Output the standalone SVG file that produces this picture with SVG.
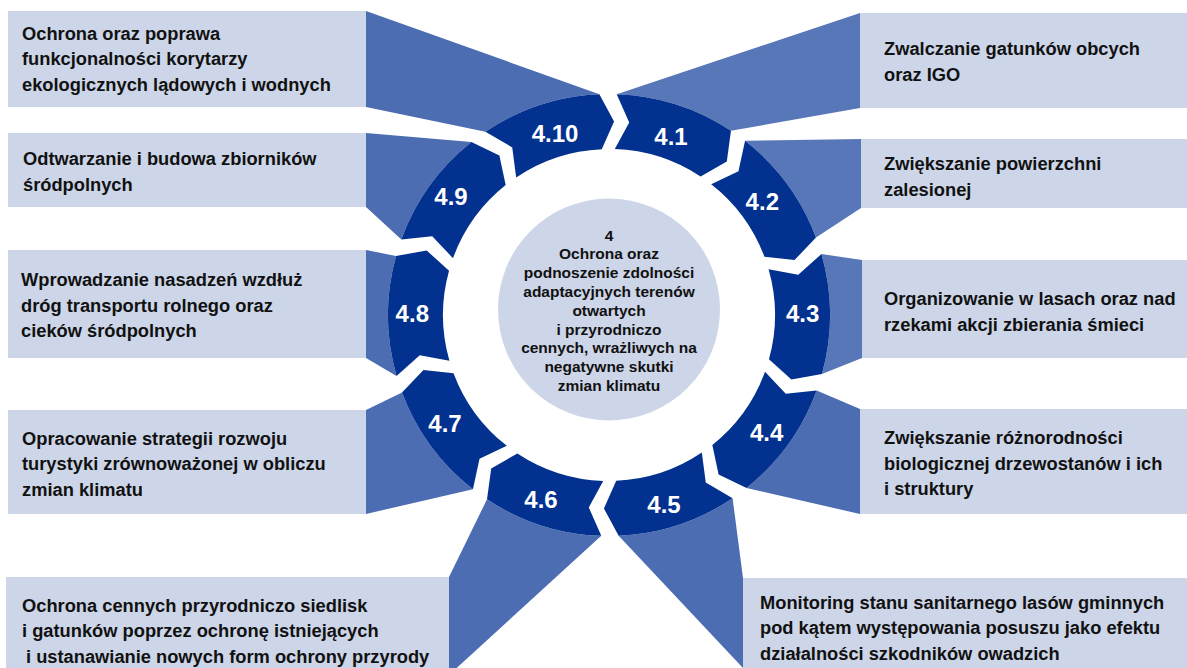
<svg xmlns="http://www.w3.org/2000/svg" width="1187" height="668" viewBox="0 0 1187 668">
<style>
.box{fill:#CDD5E8}
.conn{fill:#4D6DB3}
.connl{fill:#5877B8}
.seg{fill:#02318F}
.lbl{font-family:"Liberation Sans",Arial,sans-serif;font-weight:bold;font-size:24px;fill:#fff;text-anchor:middle}
.txt{font-family:"Liberation Sans",Arial,sans-serif;font-weight:bold;font-size:18.3px;fill:#111}
.ctr{font-family:"Liberation Sans",Arial,sans-serif;font-weight:bold;font-size:15.5px;fill:#111;text-anchor:middle}
</style>
<rect width="1187" height="668" fill="#fff"/>
<g id="connectors">
<path class="connl" d="M 860 13 L 616.71 94.13 A 221 221 0 0 1 730.98 130.71 L 860 108 Z"/>
<path class="connl" d="M 861 139 L 745.06 140.85 A 221 221 0 0 1 816.00 237.60 L 861 208 Z"/>
<path class="connl" d="M 862 260 L 821.44 254.08 A 221 221 0 0 1 821.96 374.06 L 862 358 Z"/>
<path class="conn" d="M 860 409 L 816.67 390.59 A 221 221 0 0 1 746.58 487.96 L 860 514 Z"/>
<path class="conn" d="M 732.58 498.22 L 743 578 L 743 668 L 618.64 535.79 A 221 221 0 0 0 732.58 498.22 Z"/>
<path class="conn" d="M 449 577 L 487.02 499.29 A 221 221 0 0 0 601.29 535.87 L 449 675 Z"/>
<path class="conn" d="M 366 410 L 402.00 392.40 A 221 221 0 0 0 472.94 489.15 L 366 514 Z"/>
<path class="conn" d="M 366 250 L 396.04 255.94 A 221 221 0 0 0 396.56 375.92 L 366 358 Z"/>
<path class="conn" d="M 366 133 L 471.42 142.04 A 221 221 0 0 0 401.33 239.41 L 366 207 Z"/>
<path class="conn" d="M 366 11 L 599.36 94.21 A 221 221 0 0 0 485.42 131.78 L 366 107 Z"/>
</g>
<g id="seg-4-1"><path class="seg" d="M 616.71 94.13 L 629.23 122.56 L 614.79 149.10 A 166 166 0 0 1 700.62 176.57 L 726.80 161.49 L 730.98 130.71 A 221 221 0 0 0 616.71 94.13 Z"/><text class="lbl" x="671" y="144.6">4.1</text></g>
<g id="seg-4-2"><path class="seg" d="M 745.06 140.85 L 738.48 171.20 L 711.20 184.19 A 166 166 0 0 1 764.49 256.87 L 794.53 260.04 L 816.00 237.60 A 221 221 0 0 0 745.06 140.85 Z"/><text class="lbl" x="762.3" y="210.3">4.2</text></g>
<g id="seg-4-3"><path class="seg" d="M 821.44 254.08 L 798.27 274.77 L 768.57 269.24 A 166 166 0 0 1 768.96 359.36 L 791.40 379.59 L 821.96 374.06 A 221 221 0 0 0 821.44 254.08 Z"/><text class="lbl" x="802.7" y="322">4.3</text></g>
<g id="seg-4-4"><path class="seg" d="M 816.67 390.59 L 785.77 393.70 L 764.99 371.78 A 166 166 0 0 1 712.34 444.91 L 718.60 474.47 L 746.58 487.96 A 221 221 0 0 0 816.67 390.59 Z"/><text class="lbl" x="766.7" y="441.3">4.4</text></g>
<g id="seg-4-5"><path class="seg" d="M 732.58 498.22 L 705.75 482.58 L 701.83 452.62 A 166 166 0 0 1 616.24 480.84 L 603.93 508.43 L 618.64 535.79 A 221 221 0 0 0 732.58 498.22 Z"/><text class="lbl" x="664" y="512.6">4.5</text></g>
<g id="seg-4-6"><path class="seg" d="M 601.29 535.87 L 588.77 507.44 L 603.21 480.90 A 166 166 0 0 1 517.38 453.43 L 491.20 468.51 L 487.02 499.29 A 221 221 0 0 0 601.29 535.87 Z"/><text class="lbl" x="541" y="507.6">4.6</text></g>
<g id="seg-4-7"><path class="seg" d="M 472.94 489.15 L 479.52 458.80 L 506.80 445.81 A 166 166 0 0 1 453.51 373.13 L 423.47 369.96 L 402.00 392.40 A 221 221 0 0 0 472.94 489.15 Z"/><text class="lbl" x="445" y="432">4.7</text></g>
<g id="seg-4-8"><path class="seg" d="M 396.56 375.92 L 419.73 355.23 L 449.43 360.76 A 166 166 0 0 1 449.04 270.64 L 426.60 250.41 L 396.04 255.94 A 221 221 0 0 0 396.56 375.92 Z"/><text class="lbl" x="412.3" y="322">4.8</text></g>
<g id="seg-4-9"><path class="seg" d="M 401.33 239.41 L 432.23 236.30 L 453.01 258.22 A 166 166 0 0 1 505.66 185.09 L 499.40 155.53 L 471.42 142.04 A 221 221 0 0 0 401.33 239.41 Z"/><text class="lbl" x="451" y="204.6">4.9</text></g>
<g id="seg-4-10"><path class="seg" d="M 485.42 131.78 L 512.25 147.42 L 516.17 177.38 A 166 166 0 0 1 601.76 149.16 L 614.07 121.57 L 599.36 94.21 A 221 221 0 0 0 485.42 131.78 Z"/><text class="lbl" x="555" y="142">4.10</text></g>
<g id="center">
<circle cx="609" cy="309.5" r="111" class="box"/>
<text class="ctr" x="609" y="240.5">4</text>
<text class="ctr" x="609" y="259.3">Ochrona oraz</text>
<text class="ctr" x="609" y="278.1">podnoszenie zdolności</text>
<text class="ctr" x="609" y="296.9">adaptacyjnych terenów</text>
<text class="ctr" x="609" y="315.7">otwartych</text>
<text class="ctr" x="609" y="334.5">i przyrodniczo</text>
<text class="ctr" x="609" y="353.3">cennych, wrażliwych na</text>
<text class="ctr" x="609" y="372.1">negatywne skutki</text>
<text class="ctr" x="609" y="390.9">zmian klimatu</text>
</g>
<g id="box-4-1"><rect class="box" x="860" y="13" width="327" height="95"/>
<text class="txt" x="884" y="55">Zwalczanie gatunków obcych</text>
<text class="txt" x="884" y="80.5">oraz IGO</text></g>
<g id="box-4-2"><rect class="box" x="861" y="139" width="326" height="69"/>
<text class="txt" x="884" y="170">Zwiększanie powierzchni</text>
<text class="txt" x="884" y="195.5">zalesionej</text></g>
<g id="box-4-3"><rect class="box" x="862" y="260" width="325" height="98"/>
<text class="txt" x="884" y="305">Organizowanie w lasach oraz nad</text>
<text class="txt" x="884" y="330.5">rzekami akcji zbierania śmieci</text></g>
<g id="box-4-4"><rect class="box" x="860" y="409" width="327" height="105"/>
<text class="txt" x="884" y="444">Zwiększanie różnorodności</text>
<text class="txt" x="884" y="469.5">biologicznej drzewostanów i ich</text>
<text class="txt" x="884" y="495">i struktury</text></g>
<g id="box-4-5"><rect class="box" x="743" y="578" width="444" height="100"/>
<text class="txt" x="760" y="608.5">Monitoring stanu sanitarnego lasów gminnych</text>
<text class="txt" x="760" y="634">pod kątem występowania posuszu jako efektu</text>
<text class="txt" x="760" y="659.5">działalności szkodników owadzich</text></g>
<g id="box-4-6"><rect class="box" x="6" y="577" width="443" height="100"/>
<text class="txt" x="22" y="611.5">Ochrona cennych przyrodniczo siedlisk</text>
<text class="txt" x="22" y="637">i gatunków poprzez ochronę istniejących</text>
<text class="txt" x="26" y="662.5">i ustanawianie nowych form ochrony przyrody</text></g>
<g id="box-4-7"><rect class="box" x="8" y="410" width="358" height="104"/>
<text class="txt" x="22" y="444.5">Opracowanie strategii rozwoju</text>
<text class="txt" x="22" y="470">turystyki zrównoważonej w obliczu</text>
<text class="txt" x="22" y="495.5">zmian klimatu</text></g>
<g id="box-4-8"><rect class="box" x="8" y="250" width="358" height="108"/>
<text class="txt" x="21" y="286">Wprowadzanie nasadzeń wzdłuż</text>
<text class="txt" x="21" y="311.5">dróg transportu rolnego oraz</text>
<text class="txt" x="21" y="337">cieków śródpolnych</text></g>
<g id="box-4-9"><rect class="box" x="8" y="133" width="358" height="74"/>
<text class="txt" x="23" y="165">Odtwarzanie i budowa zbiorników</text>
<text class="txt" x="23" y="190.5">śródpolnych</text></g>
<g id="box-4-10"><rect class="box" x="8" y="11" width="358" height="96"/>
<text class="txt" x="22" y="39.5">Ochrona oraz poprawa</text>
<text class="txt" x="22" y="65">funkcjonalności korytarzy</text>
<text class="txt" x="22" y="90.7">ekologicznych lądowych i wodnych</text></g>
</svg>
